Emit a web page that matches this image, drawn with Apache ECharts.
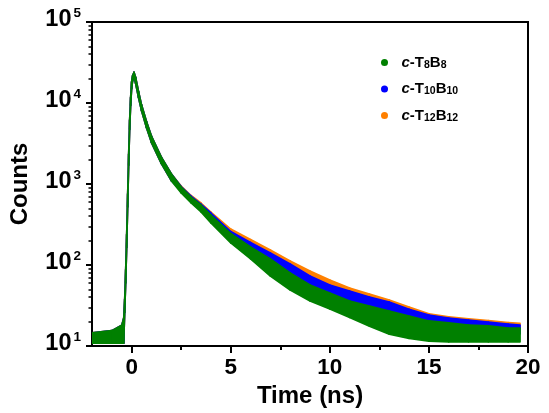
<!DOCTYPE html>
<html>
<head>
<meta charset="utf-8">
<script src="https://cdn.jsdelivr.net/npm/echarts@6/dist/echarts.min.js"></script>
<style>html,body{margin:0;padding:0;background:#fff}#c{width:549px;height:413px}</style>
</head>
<body>
<div id="c"></div>
<script>
// Time knots (ns)
const timeNs = [-2, -1, -0.5, -0.4, -0.35, -0.3, -0.25, -0.2, -0.15, -0.1, -0.05, 0, 0.05, 0.12, 0.2, 0.35, 0.5, 0.75, 1, 1.5, 2,
                2.5, 3, 3.5, 4, 5, 6, 7, 8, 9, 10, 11, 12, 13, 14, 15, 16, 17, 18, 19, 19.6];
// Shared part (baseline, rise, peak, early decay) - all three traces overlap here
const earlyHigh = [14.5, 15.5, 18, 22, 38, 88, 240, 760, 2350, 6200, 11800, 18300, 21800, 24000, 20800, 13800, 9500, 5900, 3900, 2150, 1340];
const earlyLow  = [10.8, 10.8, 10.8, 10.8, 26, 60, 165, 520, 1700, 4700, 9300, 15000, 18800, 21500, 17500, 11600, 8000, 4950, 3250, 1780, 1100];
// Tail (t >= 2.5 ns): upper and lower edge of each point cloud
const t8b8High  = [918, 691, 551, 414, 245, 167, 119, 79.6, 56.6, 45.1, 35.9, 31.2, 27.0, 23.5, 20.4, 19.3, 18.2, 17.7, 16.7, 16.7];
const t8b8Low   = [774, 583, 451, 330, 187, 119, 73.1, 49.1, 35.9, 28.6, 22.5, 17.5, 14.0, 12.4, 11.5, 11.2, 11.2, 11.2, 11.2, 11.2];
const t10b10High = [931, 711, 566, 439, 259, 190, 141, 103, 73.1, 56.6, 47.8, 40.3, 34.9, 28.5, 24.1, 22.2, 20.9, 19.8, 18.7, 18.2];
const t10b10Low  = [820, 600, 470, 350, 222, 145, 97.2, 69.1, 50.5, 41.4, 32.1, 27.0, 23.5, 20.4, 17.2, 16.2, 15.3, 14.9, 14.5, 14.1];
const t12b12High = [944, 721, 583, 451, 278, 206, 153, 112, 84.3, 65.3, 52.0, 43.9, 37.0, 30.3, 25.0, 23.0, 21.7, 20.6, 19.5, 19.0];
const t12b12Low  = [880, 653, 520, 403, 241, 177, 126, 89.2, 63.5, 49.1, 40.3, 34.0, 29.4, 24.8, 20.4, 19.3, 18.2, 17.2, 16.2, 15.8];

const seriesNames = ['c-T8B8', 'c-T10B10', 'c-T12B12'];
const seriesColors = ['#008000', '#0000ff', '#ff8000'];
const xMajorTicks = [0, 5, 10, 15, 20];
const xMinorTicks = [2.5, 7.5, 12.5, 17.5];
const yMinorTicks = [20,30,40,50,60,70,80,90,200,300,400,500,600,700,800,900,2000,3000,4000,5000,6000,7000,8000,9000,20000,30000,40000,50000,60000,70000,80000,90000];

const FONT = '"Liberation Sans", Arial, sans-serif';

function segments(high, low) {
  const hi = earlyHigh.concat(high), lo = earlyLow.concat(low);
  const out = [];
  for (let i = 0; i < timeNs.length - 1; i++) {
    out.push([timeNs[i], timeNs[i + 1], lo[i], hi[i], lo[i + 1], hi[i + 1]]);
  }
  return out;
}

function bandItem(params, api) {
  const c = api.visual('color');
  const p0 = api.coord([api.value(0), api.value(3)]);
  const p1 = api.coord([api.value(1), api.value(5)]);
  const p2 = api.coord([api.value(1), api.value(4)]);
  const p3 = api.coord([api.value(0), api.value(2)]);
  return {
    type: 'polygon',
    shape: { points: [p0, p1, p2, p3] },
    style: { fill: c, stroke: c, lineWidth: 1.6, lineJoin: 'round' }
  };
}

function bandSeries(name, color, high, low) {
  return {
    type: 'custom', name: name, renderItem: bandItem,
    itemStyle: { color: color },
    encode: { x: [0, 1], y: [2, 3, 4, 5] },
    data: segments(high, low),
    clip: true
  };
}

const chart = echarts.init(document.getElementById('c'), null, { renderer: 'canvas' });
chart.setOption({
  animation: false,
  backgroundColor: '#fff',
  grid: { left: 90, right: 21, top: 22, bottom: 67, show: true, borderColor: '#000', borderWidth: 2, backgroundColor: 'transparent' },
  legend: {
    orient: 'vertical', left: 376, top: 50, icon: 'circle',
    itemWidth: 24, itemHeight: 7, itemGap: 11,
    data: seriesNames,
    formatter: function (name) {
      const m = name.match(/c-T(\d+)B(\d+)/);
      return '{i|c}{n|-T}{s|' + m[1] + '}{n|B}{s|' + m[2] + '}';
    },
    textStyle: {
      rich: {
        i: { fontFamily: FONT, fontSize: 15, fontWeight: 'bold', fontStyle: 'italic', color: '#000', lineHeight: 16 },
        n: { fontFamily: FONT, fontSize: 15, fontWeight: 'bold', color: '#000', lineHeight: 16 },
        s: { fontFamily: FONT, fontSize: 10.5, fontWeight: 'bold', color: '#000', lineHeight: 10, verticalAlign: 'bottom' }
      }
    }
  },
  xAxis: [{
    type: 'value', position: 'bottom', min: -2, max: 20,
    name: 'Time (ns)', nameLocation: 'middle', nameGap: 37,
    nameTextStyle: { fontFamily: FONT, fontSize: 24, fontWeight: 'bold', color: '#000' },
    axisLine: { onZero: false, lineStyle: { color: '#000', width: 2 } },
    axisTick: { length: 7, lineStyle: { color: '#000', width: 2 }, customValues: xMajorTicks },
    axisLabel: { customValues: xMajorTicks, margin: 10, fontFamily: FONT, fontSize: 22.5, fontWeight: 'bold', color: '#000' },
    splitLine: { show: false }
  }, {
    type: 'value', position: 'bottom', min: -2, max: 20,
    axisLine: { show: false, onZero: false },
    axisTick: { length: 4, lineStyle: { color: '#000', width: 2 }, customValues: xMinorTicks },
    axisLabel: { show: false },
    splitLine: { show: false }
  }],
  yAxis: [{
    type: 'log', logBase: 10, position: 'left', min: 10, max: 100000,
    name: 'Counts', nameLocation: 'middle', nameGap: 60,
    nameTextStyle: { fontFamily: FONT, fontSize: 24, fontWeight: 'bold', color: '#000' },
    axisLine: { show: true, onZero: false, lineStyle: { color: '#000', width: 2 } },
    axisTick: { show: true, length: 6, lineStyle: { color: '#000', width: 2 } },
    axisLabel: {
      margin: 11, fontFamily: FONT, color: '#000',
      formatter: function (v) { return '{b|10}{p|' + Math.round(Math.log10(v)) + '}'; },
      rich: {
        b: { fontFamily: FONT, fontSize: 23.5, fontWeight: 'bold', color: '#000', lineHeight: 22, padding: [0, 0, 4, 0] },
        p: { fontFamily: FONT, fontSize: 13.5, fontWeight: 'bold', color: '#000', lineHeight: 14, padding: [0, 0, 18, 2] }
      }
    },
    splitLine: { show: false }
  }, {
    type: 'log', logBase: 10, position: 'left', min: 10, max: 100000,
    axisLine: { show: false, onZero: false },
    axisTick: { show: true, length: 3.5, lineStyle: { color: '#000', width: 1.5 }, customValues: yMinorTicks },
    axisLabel: { show: false },
    splitLine: { show: false }
  }],
  series: [
    bandSeries(seriesNames[2], seriesColors[2], t12b12High, t12b12Low),
    bandSeries(seriesNames[1], seriesColors[1], t10b10High, t10b10Low),
    bandSeries(seriesNames[0], seriesColors[0], t8b8High, t8b8Low)
  ]
});
</script>
</body>
</html>
